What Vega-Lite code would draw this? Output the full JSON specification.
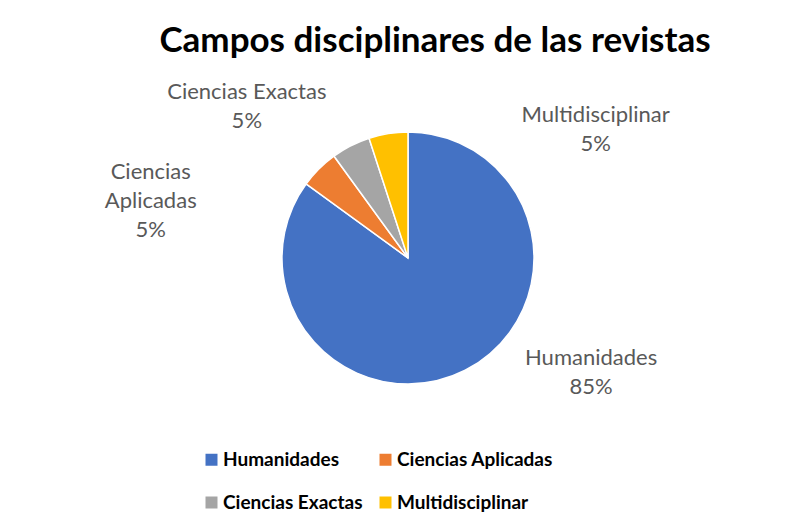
{
  "$schema": "https://vega.github.io/schema/vega-lite/v6.json",
  "width": 772,
  "height": 366,
  "padding": {"left": 22, "top": 24, "right": 0, "bottom": 0},
  "background": "white",
  "title": {
    "text": "Campos disciplinares de las revistas",
    "font": "Lato",
    "fontSize": 35,
    "fontWeight": "bold",
    "color": "black",
    "anchor": "middle",
    "frame": "group",
    "dx": 27,
    "offset": 16
  },
  "data": {
    "values": [
      {"campo": "Humanidades", "valor": 85},
      {"campo": "Ciencias Aplicadas", "valor": 5},
      {"campo": "Ciencias Exactas", "valor": 5},
      {"campo": "Multidisciplinar", "valor": 5}
    ]
  },
  "transform": [
    {"calculate": "replace(datum.campo, 'Ciencias Aplicadas', 'Ciencias\\nAplicadas') + '\\n' + datum.valor + '%'", "as": "etiqueta"}
  ],
  "encoding": {
    "theta": {"field": "valor", "type": "quantitative", "stack": true},
    "order": {"field": "valor", "type": "quantitative", "sort": "descending"}
  },
  "layer": [
    {
      "mark": {"type": "arc", "outerRadius": 126, "stroke": "white", "strokeWidth": 1.5},
      "encoding": {
        "color": {
          "field": "campo",
          "type": "nominal",
          "scale": {
            "domain": ["Humanidades", "Ciencias Aplicadas", "Ciencias Exactas", "Multidisciplinar"],
            "range": ["#4472C4", "#ED7D31", "#A5A5A5", "#FFC000"]
          },
          "legend": {
            "title": null,
            "orient": "none",
            "legendX": 180,
            "legendY": 375,
            "direction": "horizontal",
            "columns": 2,
            "symbolType": "square",
            "symbolSize": 144,
            "symbolStrokeWidth": 0,
            "labelFont": "Lato",
            "labelFontSize": 19,
            "labelFontWeight": "bold",
            "labelColor": "black",
            "labelOffset": 2,
            "labelLimit": 300,
            "columnPadding": 13,
            "rowPadding": 23
          }
        }
      }
    },
    {
      "mark": {"type": "text", "clip": true, "radius": 150, "dx": 115, "dy": -34, "font": "Lato", "fontSize": 22, "color": "#595959", "lineBreak": "\n", "lineHeight": 29, "align": "center", "baseline": "middle"},
      "encoding": {
        "text": {"condition": {"test": "datum.campo === 'Humanidades'", "field": "etiqueta", "type": "nominal"}, "value": ""}
      }
    },
    {
      "mark": {"type": "text", "clip": true, "radius": 180, "dx": -130, "dy": 41, "font": "Lato", "fontSize": 22, "color": "#595959", "lineBreak": "\n", "lineHeight": 29, "align": "center", "baseline": "middle"},
      "encoding": {
        "text": {"condition": {"test": "datum.campo === 'Ciencias Aplicadas'", "field": "etiqueta", "type": "nominal"}, "value": ""}
      }
    },
    {
      "mark": {"type": "text", "clip": true, "radius": 170, "dx": -84, "dy": -15, "font": "Lato", "fontSize": 22, "color": "#595959", "lineBreak": "\n", "lineHeight": 29, "align": "center", "baseline": "middle"},
      "encoding": {
        "text": {"condition": {"test": "datum.campo === 'Ciencias Exactas'", "field": "etiqueta", "type": "nominal"}, "value": ""}
      }
    },
    {
      "mark": {"type": "text", "clip": true, "radius": 130, "dx": 208, "dy": -15, "font": "Lato", "fontSize": 22, "color": "#595959", "lineBreak": "\n", "lineHeight": 29, "align": "center", "baseline": "middle"},
      "encoding": {
        "text": {"condition": {"test": "datum.campo === 'Multidisciplinar'", "field": "etiqueta", "type": "nominal"}, "value": ""}
      }
    }
  ],
  "config": {
    "view": {"stroke": null}
  }
}
